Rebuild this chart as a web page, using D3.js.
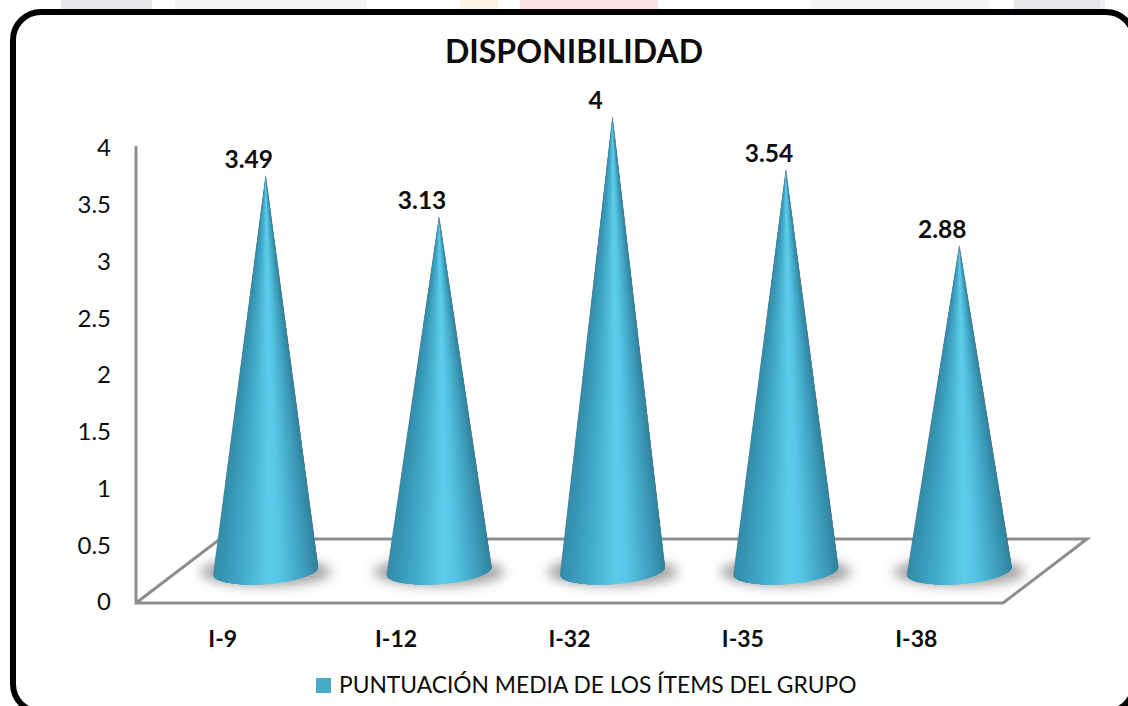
<!DOCTYPE html>
<html lang="es">
<head>
<meta charset="utf-8">
<title>DISPONIBILIDAD</title>
<script src="https://cdn.jsdelivr.net/npm/d3@7/dist/d3.min.js"></script>
<style>
  html, body { margin: 0; padding: 0; background: #fff; overflow: hidden; }
  svg { display: block; }
  text { font-family: Lato, "Open Sans", sans-serif; fill: #0d0d0d; }
</style>
</head>
<body>
<svg id="chart" width="1128" height="706"></svg>
<script>
// Chart data
const chartTitle = "DISPONIBILIDAD";
const seriesName = "PUNTUACIÓN MEDIA DE LOS ÍTEMS DEL GRUPO";
const categories = ["I-9", "I-12", "I-32", "I-35", "I-38"];
const values = [3.49, 3.13, 4, 3.54, 2.88];
const valueLabels = ["3.49", "3.13", "4", "3.54", "2.88"];
const tickValues = [0, 0.5, 1, 1.5, 2, 2.5, 3, 3.5, 4];

const svg = d3.select("#chart");
const defs = svg.append("defs");
defs.append("filter").attr("id", "soft")
  .attr("x", "-30%").attr("y", "-80%").attr("width", "160%").attr("height", "260%")
  .append("feGaussianBlur").attr("stdDeviation", 6);

// Faint page decoration that shows above the frame
const strips = [
  [61, 152, "#e6e6eb"], [175, 367, "#f5f5f8"], [460, 498, "#fdf3e4"],
  [520, 658, "#f9e3e3"], [811, 989, "#f5f5f8"], [1014, 1100, "#e6e6eb"], [1100, 1105, "#f1f1f5"]
];
svg.selectAll("rect.strip").data(strips).join("rect").attr("class", "strip")
  .attr("x", d => d[0]).attr("y", 0).attr("width", d => d[1] - d[0]).attr("height", 9)
  .attr("fill", d => d[2]);

// Rounded frame, running past the right and bottom of the page
svg.append("rect")
  .attr("x", 13).attr("y", 12).attr("width", 1121).attr("height", 700)
  .attr("rx", 28).attr("ry", 28)
  .attr("fill", "#fff").attr("stroke", "#000").attr("stroke-width", 6);

// Scales: the floor is a sheared plane, so cones stand inside its depth
const floorFront = { left: 136, right: 1003 };
const depth = { dx: 84, dy: 64 };
const coneShift = 43;
const x = d3.scaleBand().domain(categories).range([floorFront.left, floorFront.right]);
const y = d3.scaleLinear().domain([0, 4]).range([601.5, 147.5]);
const coneHeight = d3.scaleLinear().domain([0, 4]).range([577, 117]);
const floorY = y(0) + 1.5;
const coneX = c => x(c) + x.bandwidth() / 2 + coneShift;

// Wall edge and floor
const axisColor = "#8e8e8e";
svg.append("path")
  .attr("d", d3.line()([
    [floorFront.left, y(4) - 1.5],
    [floorFront.left, floorY],
    [floorFront.right, floorY],
    [floorFront.right + depth.dx, floorY - depth.dy],
    [floorFront.left + depth.dx, floorY - depth.dy],
    [floorFront.left, floorY]
  ]))
  .attr("fill", "none").attr("stroke", axisColor).attr("stroke-width", 3)
  .attr("stroke-linejoin", "miter");

// Value axis
const yAxis = d3.axisLeft(y).tickValues(tickValues).tickSize(0).tickPadding(0)
  .tickFormat(d => String(d));
svg.append("g").attr("transform", "translate(111,0)").call(yAxis)
  .call(g => g.select(".domain").remove())
  .selectAll("text").style("font-size", "24px").attr("dy", "0.35em")
  .style("font-family", "Lato, sans-serif").style("fill", "#0d0d0d");

// Category axis
svg.selectAll("text.cat").data(categories).join("text").attr("class", "cat")
  .attr("x", c => x(c) + x.bandwidth() / 2).attr("y", 647)
  .attr("text-anchor", "middle").attr("font-size", 23).attr("font-weight", 700)
  .text(c => c);

// Cone geometry and shading
const baseRx = 52.5, baseRy = 13, tilt = -4.4 * Math.PI / 180, baseLift = 6;
const shade = d3.scaleLinear()
  .domain([0, 0.12, 0.3, 0.52, 0.62, 0.82, 1])
  .range(["#338dab", "#3a9bba", "#48b0cf", "#5dcdec", "#58c6e6", "#42a4c3", "#2f839e"]);
const sliceCount = 60;
const slices = d3.range(0, sliceCount);

function basePoint(cx, cy, a) {
  const ex = baseRx * Math.cos(a), ey = baseRy * Math.sin(a);
  return [cx + ex * Math.cos(tilt) - ey * Math.sin(tilt),
          cy + ex * Math.sin(tilt) + ey * Math.cos(tilt)];
}

const cones = svg.selectAll("g.cone")
  .data(categories.map((c, i) => ({ c, v: values[i], label: valueLabels[i] })))
  .join("g").attr("class", "cone");

cones.each(function (d) {
  const g = d3.select(this);
  const cx = coneX(d.c), cy = coneHeight(0) - baseLift, apex = [cx, coneHeight(d.v)];

  // Soft contact shadow on the floor
  g.append("ellipse")
    .attr("cx", cx).attr("cy", cy + 1).attr("rx", baseRx + 13).attr("ry", baseRy + 1)
    .attr("fill", "#666").attr("opacity", 0.6).attr("filter", "url(#soft)");

  // Body: overlapping wedges from the tip round the front of the base, painted
  // left to right so that each one covers the seam of the one before
  const rim = t => basePoint(cx, cy, Math.PI * (1 - Math.min(t, sliceCount) / sliceCount));
  g.selectAll("path.wedge").data(slices).join("path").attr("class", "wedge")
    .attr("d", i => d3.line()([apex, ...d3.range(i, i + 5).map(rim)]) + "Z")
    .attr("fill", i => shade(0.5 - 0.5 * Math.cos(Math.PI * i / sliceCount)));

  // Greyed silhouette along both sides
  g.append("path")
    .attr("d", d3.line()([basePoint(cx, cy, Math.PI), apex, basePoint(cx, cy, 0)]))
    .attr("fill", "none").attr("stroke", "#6b7478").attr("stroke-opacity", 0.5)
    .attr("stroke-width", 0.8);

  // Value label
  g.append("text")
    .attr("x", cx - 17).attr("y", apex[1] - 8)
    .attr("text-anchor", "middle").attr("font-size", 24.5).attr("font-weight", 700)
    .text(d.label);
});

// Title
svg.append("text").attr("x", 574).attr("y", 63)
  .attr("text-anchor", "middle").attr("font-size", 32).attr("font-weight", 700)
  .text(chartTitle);

// Legend
svg.append("rect").attr("x", 316).attr("y", 678).attr("width", 15).attr("height", 15)
  .attr("fill", "#45abc6");
svg.append("text").attr("x", 339).attr("y", 693).attr("font-size", 22.8).text(seriesName);
</script>
</body>
</html>
